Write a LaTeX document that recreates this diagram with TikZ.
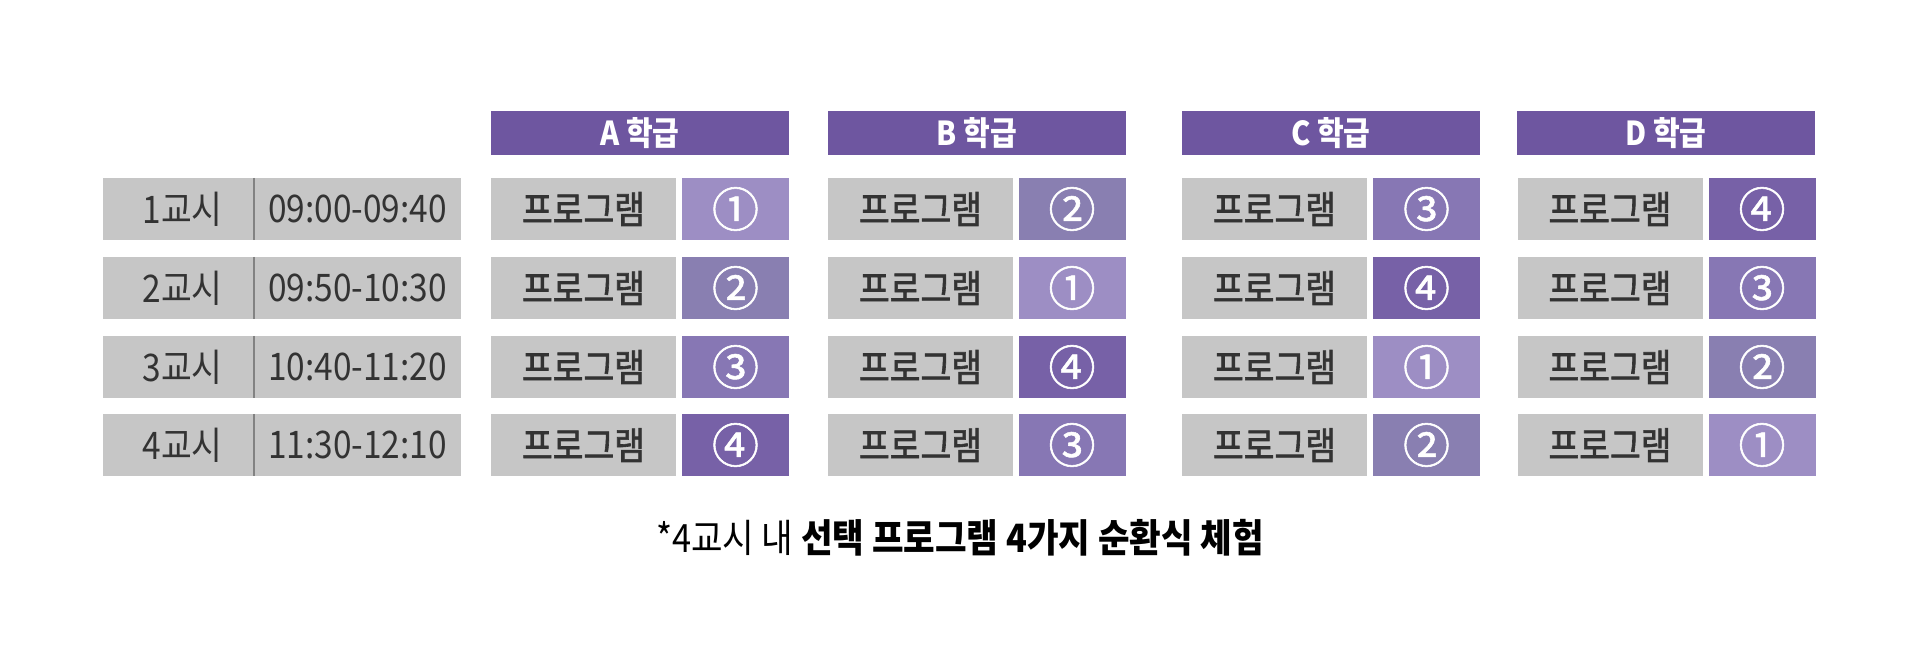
\documentclass[tikz,border=0pt]{standalone}
\usepackage{fontspec}
\setmainfont{Noto Sans CJK KR}
\newfontfamily\krc{Noto Sans CJK KR}[FakeStretch=0.88]
\newfontfamily\krm{Noto Sans CJK KR}[FakeStretch=0.88,FakeBold=1.6]
\newfontfamily\krn{Noto Sans CJK KR}[FakeBold=1.2]
\definecolor{hdrpurple}{RGB}{110,86,160}
\definecolor{cellgray}{RGB}{198,198,198}
\definecolor{textdark}{RGB}{51,51,51}
\definecolor{divgray}{RGB}{130,130,130}
\definecolor{nA}{RGB}{157,142,196}
\definecolor{nB}{RGB}{137,127,177}
\definecolor{nC}{RGB}{135,119,180}
\definecolor{nD}{RGB}{119,97,167}
\tikzset{
  hdr/.style={fill=hdrpurple, text=white, minimum width=298pt, minimum height=44pt, inner sep=0pt, font=\krc\fontsize{33}{33}\selectfont\bfseries},
  prog/.style={fill=cellgray, text=textdark, minimum width=185pt, minimum height=62pt, inner sep=0pt, font=\krm\fontsize{38}{38}\selectfont},
  numbox/.style={text=white, minimum width=107pt, minimum height=62pt, inner sep=0pt, font=\krn\fontsize{47}{47}\selectfont},
  period/.style={fill=cellgray, text=textdark, minimum width=151pt, minimum height=62pt, inner sep=0pt, font=\krc\fontsize{38}{38}\selectfont},
  timebox/.style={fill=cellgray, text=textdark, minimum width=207pt, minimum height=62pt, inner sep=0pt, font=\krc\fontsize{38}{38}\selectfont},
  divider/.style={draw=divgray, line width=1.5pt},
  note/.style={inner sep=0pt, text=black, font=\krc\fontsize{39}{39}\selectfont}
}
\begin{document}
\begin{tikzpicture}[x=1pt,y=-1pt]
\useasboundingbox[fill=white] (0,0) rectangle (1920,664);
% headers
\node[hdr] (hA) at (640,133) {A 학급};
\node[hdr] (hB) at (977,133) {B 학급};
\node[hdr] (hC) at (1331,133) {C 학급};
\node[hdr] (hD) at (1666,133) {D 학급};
% period / time labels
\foreach \r/\y/\p/\t in {1/209/1교시/09:00-09:40, 2/288/2교시/09:50-10:30, 3/367/3교시/10:40-11:20, 4/445/4교시/11:30-12:10}{
  \node[period] (p\r) at (178.5,\y) {\hspace*{8pt}\p};
  \node[timebox] (t\r) at (357.5,\y) {\t};
  \draw[divider] (p\r.north east) -- (p\r.south east);
}
% program cells
\foreach \c/\px in {A/583.5, B/920.5, C/1274.5, D/1610}{
  \foreach \r/\y in {1/209, 2/288, 3/367, 4/445}{
    \node[prog] (g\c\r) at (\px,\y) {프로그램};
  }
}
% number cells
\foreach \c/\nx/\a/\b/\cc/\d in {A/735.5/1/2/3/4, B/1072/2/1/4/3, C/1426.5/3/4/1/2, D/1762/4/3/2/1}{
  \foreach \r/\y/\n in {1/209/\a, 2/288/\b, 3/367/\cc, 4/445/\d}{
    \ifcase\n\or
      \node[numbox, fill=nA] (n\c\r) at (\nx,\y) {①};\or
      \node[numbox, fill=nB] (n\c\r) at (\nx,\y) {②};\or
      \node[numbox, fill=nC] (n\c\r) at (\nx,\y) {③};\or
      \node[numbox, fill=nD] (n\c\r) at (\nx,\y) {④};\fi
  }
}
% footnote
\node[note] (foot) at (960,538) {*4교시 내 \textbf{선택 프로그램 4가지 순환식 체험}};
\end{tikzpicture}
\end{document}
